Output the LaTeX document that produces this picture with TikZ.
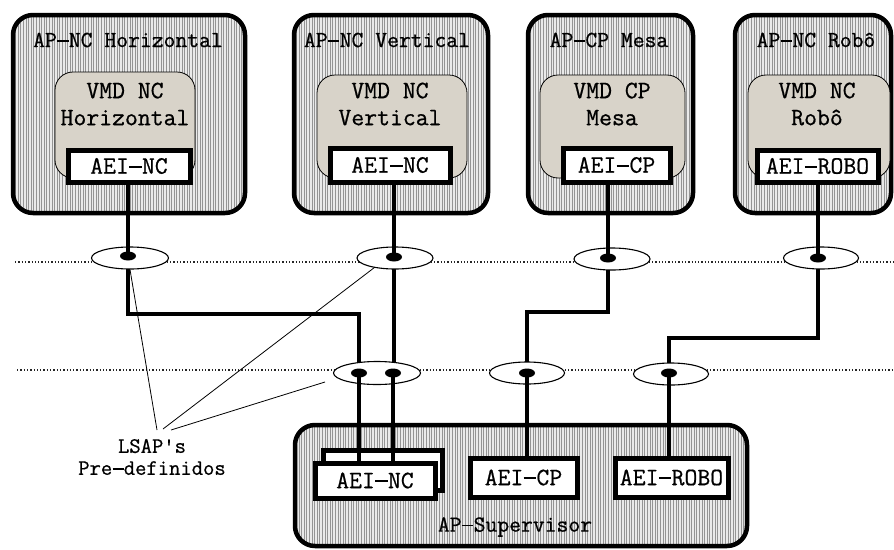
\documentclass[tikz,border=0pt]{standalone}
\usepackage{fontspec}
\usetikzlibrary{shapes.geometric,patterns.meta}
\newfontfamily\dfont{Latin Modern Mono}[FakeBold=0.7]
\newcommand\dsh{\makebox[0.525em]{\rule[0.24em]{0.5em}{0.07em}}}
\definecolor{vmdfill}{RGB}{216,211,201}
\definecolor{hatchbase}{RGB}{234,234,234}
\tikzset{
  apbox/.style={draw, line width=4.5pt, rounded corners=20pt, inner sep=0pt,
    preaction={fill=hatchbase},
    pattern={Lines[angle=90,distance=2.6pt,line width=0.9pt]}, pattern color=black!42},
  vmdbox/.style={draw, line width=0.8pt, rounded corners=18pt, fill=vmdfill, inner sep=0pt},
  aei/.style={draw, line width=5pt, fill=white, inner sep=0pt,
    font=\dfont\fontsize{25}{28}\selectfont},
  ttl/.style={inner sep=0pt, font=\dfont\fontsize{23}{26}\selectfont},
  vmdtxt/.style={inner sep=0pt, align=center, font=\dfont\fontsize{25}{27}\selectfont},
  lbl/.style={inner sep=0pt, align=center, font=\dfont\fontsize{22}{22}\selectfont},
  sap/.style={ellipse, draw, line width=1.1pt, fill=white, inner sep=0pt, minimum height=22pt},
  sapdot/.style={ellipse, fill=black, minimum width=16pt, minimum height=9pt, inner sep=0pt},
  link/.style={line width=4.3pt},
  bus/.style={dotted, line width=1.3pt, black!85},
  callout/.style={line width=0.8pt},
}
\begin{document}
\begin{tikzpicture}[x=1pt,y=-1pt]
\useasboundingbox (0,0) rectangle (894,549);

% ---- application processes (top row)
\node[apbox, minimum width=232pt, minimum height=198pt] (apH) at (129,114) {};
\node[apbox, minimum width=194pt, minimum height=198pt] (apV) at (391,114) {};
\node[apbox, minimum width=165pt, minimum height=198pt] (apM) at (610.5,114) {};
\node[apbox, minimum width=156pt, minimum height=198pt] (apR) at (813,114) {};

\node[ttl] (tH) at (128,40) {AP\dsh NC Horizontal};
\node[ttl] (tV) at (387,40) {AP\dsh NC Vertical};
\node[ttl] (tM) at (609,40) {AP\dsh CP Mesa};
\node[ttl] (tR) at (816,40) {AP\dsh NC Robô};

% virtual manufacturing devices
\node[vmdbox, minimum width=140pt, minimum height=106pt] (vH) at (125,125) {};
\node[vmdbox, minimum width=150pt, minimum height=103pt] (vV) at (392,126.5) {};
\node[vmdbox, minimum width=145pt, minimum height=103pt] (vM) at (612.5,126.5) {};
\node[vmdbox, minimum width=142pt, minimum height=103pt] (vR) at (819,126.5) {};

\node[vmdtxt] (vtH) at (125,104) {VMD NC\\Horizontal};
\node[vmdtxt] (vtV) at (390,104) {VMD NC\\Vertical};
\node[vmdtxt] (vtM) at (612,104) {VMD CP\\Mesa};
\node[vmdtxt] (vtR) at (817,104) {VMD NC\\Robô};

% application entity invocations
\node[aei, minimum width=122pt, minimum height=32pt] (aH) at (129,166) {AEI\dsh NC};
\node[aei, minimum width=120pt, minimum height=34pt] (aV) at (390,165) {AEI\dsh NC};
\node[aei, minimum width=107pt, minimum height=34pt] (aM) at (616.5,165) {AEI\dsh CP};
\node[aei, minimum width=121pt, minimum height=32pt] (aR) at (817.5,166) {AEI\dsh ROBO};

% ---- supervisor
\node[apbox, minimum width=452pt, minimum height=121pt] (sup) at (521,485.5) {};
\node[aei, minimum width=119pt, minimum height=40pt] (sNCb) at (382.5,470) {};
\node[aei, minimum width=120pt, minimum height=35pt] (sNC) at (375,480.5) {AEI\dsh NC};
\node[aei, minimum width=107pt, minimum height=39pt] (sCP) at (523.5,477.5) {AEI\dsh CP};
\node[aei, minimum width=113pt, minimum height=39pt] (sRB) at (671.5,477.5) {AEI\dsh ROBO};
\node[ttl] (tS) at (515,527) {AP\dsh Supervisor};

% ---- network layers
\coordinate (u0) at (15,262);  \coordinate (u1) at (894,262);
\coordinate (w0) at (17,370);  \coordinate (w1) at (894,370);
\draw[bus] (u0) -- (u1);
\draw[bus] (w0) -- (w1);

% service access point positions
\coordinate (j1) at (0,314);
\coordinate (j2) at (0,312);
\coordinate (j3) at (0,338);
\node[sapdot] (d1) at (128,256) {};
\node[sapdot] (d2) at (394,257) {};
\node[sapdot] (d3) at (608,258) {};
\node[sapdot] (d4) at (818,258) {};
\node[sapdot] (d5) at (359,373) {};
\node[sapdot] (d6) at (393,373) {};
\node[sapdot] (d7) at (527,373) {};
\node[sapdot] (d8) at (669,373) {};

% links between the two layers (hidden inside the ellipses)
\draw[link] (d1.center) -- (d1 |- j1) -| (d5.center);
\draw[link] (d2.center) -- (d2 |- d6);
\draw[link] (d3.center) -- (d3 |- j2) -| (d7.center);
\draw[link] (d4.center) -- (d4 |- j3) -| (d8.center);

% ellipses
\node[sap, minimum width=77pt] (e1) at (130,258) {};
\node[sap, minimum width=76pt] (e2) at (395,258) {};
\node[sap, minimum width=76pt] (e3) at (612,259) {};
\node[sap, minimum width=75pt] (e4) at (821,258) {};
\node[sap, minimum width=87pt, minimum height=23pt] (l1) at (377,373) {};
\node[sap, minimum width=75pt] (l2) at (527,373) {};
\node[sap, minimum width=75pt] (l3) at (671,374) {};

% connections to the entities
\draw[link] (aH.south -| d1) -- (d1.center);
\draw[link] (aV.south -| d2) -- (d2.center);
\draw[link] (aM.south -| d3) -- (d3.center);
\draw[link] (aR.south -| d4) -- (d4.center);
\draw[link] (d5.center) -- (d5 |- sNC.north);
\draw[link] (d6.center) -- (d6 |- sNC.north);
\draw[link] (d7.center) -- (d7 |- sCP.north);
\draw[link] (d8.center) -- (d8 |- sRB.north);

% redraw the dots on top
\foreach \d/\x/\y in {a/128/256, b/394/257, c/608/258, e/818/258, f/359/373, g/393/373, h/527/373, k/669/373}
  \node[sapdot] (dd\d) at (\x,\y) {};

% predefined LSAP callout
\node[lbl] (lsap) at (152,457) {LSAP's\\Pre\dsh definidos};
\coordinate (p1) at (157,430);
\coordinate (p2) at (163,429);
\coordinate (p3) at (171,430);
\coordinate (q3) at (325,382);
\draw[callout] (p1) -- (e1.south);
\draw[callout] (p2) -- (e2.205);
\draw[callout] (p3) -- (q3);
\end{tikzpicture}
\end{document}
